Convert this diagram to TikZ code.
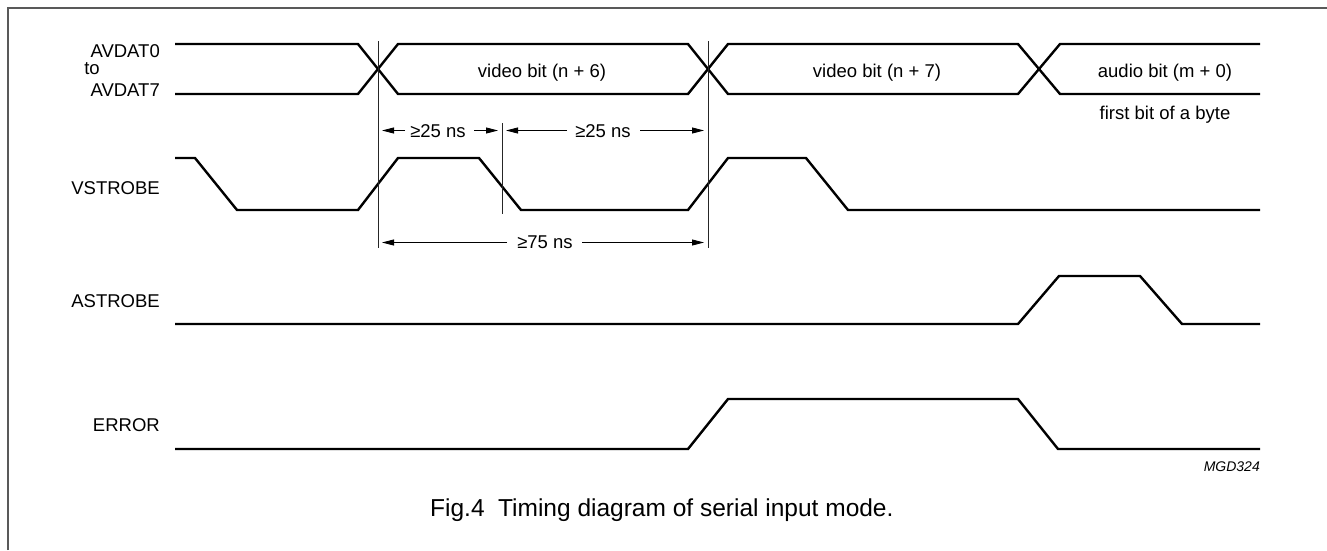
\documentclass[tikz,border=0pt]{standalone}
\usepackage{fontspec}
\setmainfont{Liberation Sans}
\usetikzlibrary{arrows.meta}
\begin{document}
\begin{tikzpicture}[x=1pt,y=-1pt,
  sig/.style={line width=2.4pt,line join=miter},
  refline/.style={line width=0.9pt,black!85},
  dimarrow/.style={line width=0.8pt,-{Triangle[length=12pt,width=6pt]}},
  lbl/.style={font=\fontsize{18.5}{22}\selectfont,inner sep=0pt,anchor=base east},
  txt/.style={font=\fontsize{18.5}{22}\selectfont,inner sep=0pt,anchor=base},
  frameline/.style={line width=1.5pt,black!65}]
\useasboundingbox (0,0) rectangle (1327,550);
% frame
\coordinate (fbl) at (8,550);
\coordinate (ftl) at (8,8);
\coordinate (ftr) at (1327,8);
\draw[frameline] (fbl) -- (ftl) -- (ftr);

% labels
\node[lbl] (lav0) at (160,57) {AVDAT0};
\node[txt] (lto) at (92,74) {to};
\node[lbl] (lav7) at (160,96) {AVDAT7};
\node[lbl] (lvs) at (160,194) {VSTROBE};
\node[lbl] (las) at (160,307) {ASTROBE};
\node[lbl] (ler) at (160,431) {ERROR};

% AVDAT bus
\draw[sig] (175,44) -- (358,44) -- (398,94) -- (688,94) -- (728,44) -- (1018,44) -- (1060,94) -- (1260,94);
\draw[sig] (175,94) -- (358,94) -- (398,44) -- (688,44) -- (728,94) -- (1018,94) -- (1060,44) -- (1260,44);
\node[txt] (vb6) at (542,77) {video bit (n + 6)};
\node[txt] (vb7) at (877,77) {video bit (n + 7)};
\node[txt] (ab0) at (1165,77) {audio bit (m + 0)};
\node[txt] (fb) at (1165,119) {first bit of a byte};

% VSTROBE
\draw[sig] (175,158) -- (195,158) -- (237,210) -- (358,210) -- (398,158) -- (479,158) -- (521,210) -- (688,210) -- (728,158) -- (806,158) -- (848,210) -- (1260,210);

% ASTROBE
\draw[sig] (175,324) -- (1018,324) -- (1059,276) -- (1140,276) -- (1182,324) -- (1260,324);

% ERROR
\draw[sig] (175,449) -- (688,449) -- (728,399) -- (1018,399) -- (1058,449) -- (1260,449);

% reference lines
\coordinate (r1t) at (378,41); \coordinate (r1b) at (378,248);
\coordinate (r2t) at (708,41); \coordinate (r2b) at (708,248);
\coordinate (r3t) at (502,123); \coordinate (r3b) at (502,214);
\draw[refline] (r1t) -- (r1b);
\draw[refline] (r2t) -- (r2b);
\draw[refline] (r3t) -- (r3b);

% dimension 1
\node[txt] (d1) at (438,137) {≥25 ns};
\coordinate (d1a) at (405,130.5); \coordinate (d1at) at (382,130.5);
\coordinate (d1b) at (474,130.5); \coordinate (d1bt) at (498,130.5);
\draw[dimarrow] (d1a) -- (d1at);
\draw[dimarrow] (d1b) -- (d1bt);
% dimension 2
\node[txt] (d2) at (603,137) {≥25 ns};
\coordinate (d2a) at (567,130.5); \coordinate (d2at) at (506,130.5);
\coordinate (d2b) at (640,130.5); \coordinate (d2bt) at (704,130.5);
\draw[dimarrow] (d2a) -- (d2at);
\draw[dimarrow] (d2b) -- (d2bt);
% dimension 3
\node[txt] (d3) at (545,248) {≥75 ns};
\coordinate (d3a) at (507,242.5); \coordinate (d3at) at (382,242.5);
\coordinate (d3b) at (582,242.5); \coordinate (d3bt) at (704,242.5);
\draw[dimarrow] (d3a) -- (d3at);
\draw[dimarrow] (d3b) -- (d3bt);

% id and caption
\node[font=\fontsize{14}{16}\selectfont\itshape,inner sep=0pt,anchor=base east] (mgd) at (1260,471) {MGD324};
\node[font=\fontsize{24.5}{28}\selectfont,inner sep=0pt,anchor=base west] (cap) at (430,516) {Fig.4\hspace{0.55em}Timing diagram of serial input mode.};
\end{tikzpicture}
\end{document}
